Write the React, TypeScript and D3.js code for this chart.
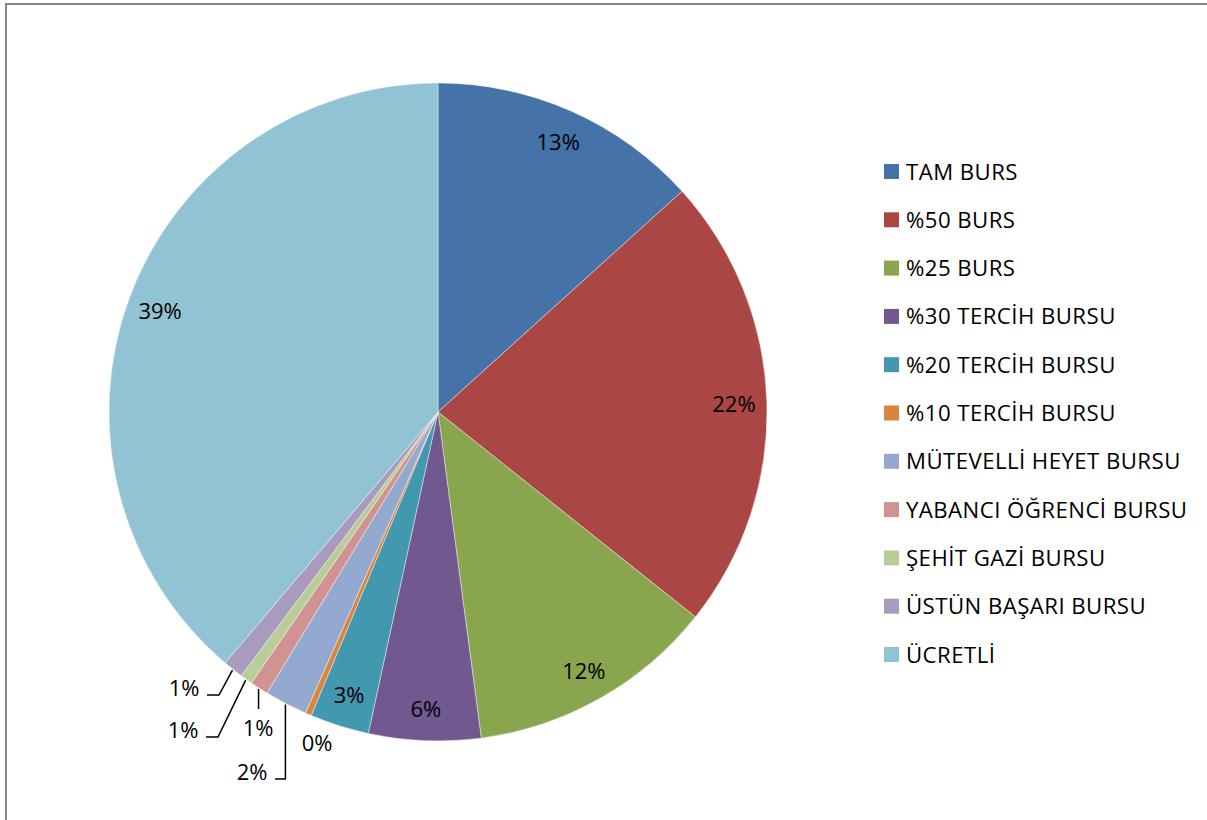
import React from "react";
import * as d3 from "d3";

const categories = [
  "TAM BURS",
  "%50 BURS",
  "%25 BURS",
  "%30 TERCİH BURSU",
  "%20 TERCİH BURSU",
  "%10 TERCİH BURSU",
  "MÜTEVELLİ HEYET BURSU",
  "YABANCI ÖĞRENCİ BURSU",
  "ŞEHİT GAZİ BURSU",
  "ÜSTÜN BAŞARI BURSU",
  "ÜCRETLİ",
];
const values = [13.3, 22.4, 12.2, 5.5, 2.9, 0.3, 2.1, 0.9, 0.6, 1.0, 38.8];
const colors = [
  "#4572A7", "#AA4643", "#89A54E", "#71588F", "#4198AF", "#DB843D",
  "#93A9CF", "#D19392", "#B9CD96", "#A99BBD", "#92C3D4",
];
// outside label placement (offset from pie centre) and leader style; null => inside label
const outsideLabels: ({ dx: number; dy: number; leader: string } | null)[] = [
  null, null, null, null, null,
  { dx: -121, dy: 330, leader: "none" },
  { dx: -186, dy: 359, leader: "elbow" },
  { dx: -180, dy: 315, leader: "vertical" },
  { dx: -255, dy: 317, leader: "elbow" },
  { dx: -254, dy: 275, leader: "elbow" },
  null,
];

const W = 1207, H = 820;
const cx = 438, cy = 412, R = 329;
const FONT = "'Open Sans', 'Noto Sans', sans-serif";

export default function App() {
  const data = categories.map((c, i) => ({ c, v: values[i], i }));
  const pie = d3.pie<any>().value((d) => d.v).sort(null);
  const arcs = pie(data);
  const arc = d3.arc<any>().innerRadius(0).outerRadius(R);
  const labelArc = d3.arc<any>().innerRadius(R * 0.9).outerRadius(R * 0.9);
  const total = d3.sum(values);
  const fmt = (v: number) => `${Math.round((v / total) * 100)}%`;

  const legendY = d3.scaleLinear().domain([0, categories.length - 1]).range([171, 654]);

  return (
    <div style={{ position: "absolute", left: 0, top: 0, width: W, height: H, background: "#fff" }}>
      <svg width={W} height={H} style={{ display: "block" }}>
        <rect x={0} y={0} width={W} height={H} fill="#fff" />
        <rect x={6} y={4} width={W + 20} height={H + 20} fill="none" stroke="#868686" strokeWidth={2} />
        <g transform={`translate(${cx},${cy})`}>
          {arcs.map((a, i) => (
            <path key={i} d={arc(a) || ""} fill={colors[i]} stroke="#fff" strokeWidth={0.7} strokeOpacity={0.6} />
          ))}
          {arcs.map((a, i) => {
            const o = outsideLabels[i];
            if (!o) {
              const [x, y] = labelArc.centroid(a);
              return (
                <text key={"l" + i} x={x} y={y} textAnchor="middle" dominantBaseline="central"
                  fontFamily={FONT} fontSize={22} fill="#000">{fmt(a.data.v)}</text>
              );
            }
            const mid = (a.startAngle + a.endAngle) / 2;
            const sx = Math.sin(mid) * (R + 1);
            const sy = -Math.cos(mid) * (R + 1);
            let line: string | null = null;
            const halfW = 21;
            if (o.leader === "elbow") {
              const right = o.dx + halfW;
              const ly = o.dy + 8;
              const ex = Math.max(right + 11, Math.min(sx, right + 14));
              line = `M${sx},${sy}L${ex},${ly}L${right + 2},${ly}`;
            } else if (o.leader === "vertical") {
              line = `M${sx},${sy}L${sx},${o.dy - 18}`;
            }
            return (
              <g key={"l" + i}>
                {line && <path d={line} fill="none" stroke="#000" strokeWidth={1.5} />}
                <text x={o.dx} y={o.dy} textAnchor="middle" dominantBaseline="central"
                  fontFamily={FONT} fontSize={22} fill="#000">{fmt(a.data.v)}</text>
              </g>
            );
          })}
        </g>
        <g>
          {categories.map((c, i) => (
            <g key={c} transform={`translate(884,${legendY(i)})`}>
              <rect x={0} y={-7} width={15} height={15} fill={colors[i]} />
              <text x={22} y={0} dominantBaseline="central" fontFamily={FONT} fontSize={22.2}
                letterSpacing={0.45} fill="#000">{c}</text>
            </g>
          ))}
        </g>
      </svg>
    </div>
  );
}
